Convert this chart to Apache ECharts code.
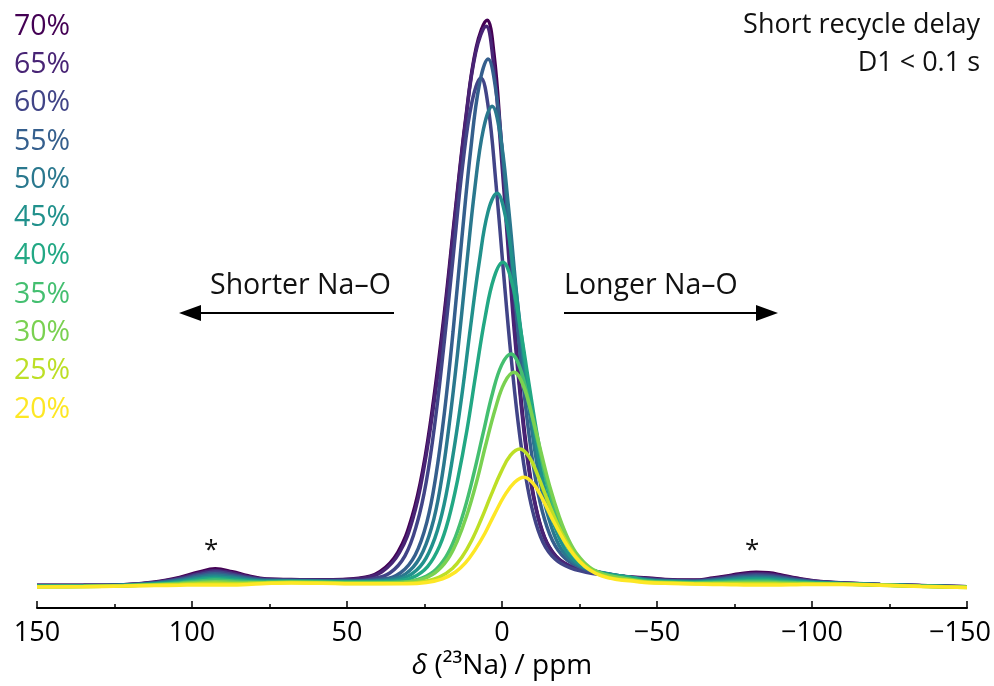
<!DOCTYPE html>
<html><head><meta charset="utf-8">
<script src="https://cdn.jsdelivr.net/npm/echarts@6/dist/echarts.min.js"></script>
<style>html,body{margin:0;padding:0;background:#fff}#c{width:994px;height:686px}</style>
</head><body><div id="c"></div>
<script>
// Labels (legend order top to bottom) and colours
const pctLabels = ['70%','65%','60%','55%','50%','45%','40%','35%','30%','25%','20%'];
const colors = ['#440154','#482475','#414487','#355f8d','#2a788e','#21918c','#22a884','#44bf70','#7ad151','#bddf26','#fde725'];
const xTicks = [150,100,50,0,-50,-100,-150];

// Spectra: [delta ppm, intensity]
const d70 = [[150,0.15],[135,0.15],[122,0.25],[112,0.7],[104,1.5],[98,2.4],[92.5,3.0],[87,2.5],[82,1.8],[76,1.25],[68,1.15],[58,1.1],
[46.2,1.38],[39.3,2.55],[33.6,5.87],[29.0,12.1],[25.5,20.3],[22.1,32.2],[18.6,47.4],[15.2,64.5],[11.7,81.2],[8.3,93.5],[4.8,98.2],
[2.6,92.4],[0.4,78.2],[-1.9,61.2],[-4.1,45.1],[-6.3,31.6],[-8.5,21.4],[-10.7,14.3],[-13.7,8.5],[-17.4,5.2],[-21.8,3.53],[-28.5,2.45],[-39.6,1.67],
[-47,1.4],[-55,1.1],[-62,1.05],[-68,1.4],[-74,1.9],[-78,2.25],[-82,2.4],[-86,2.3],[-90,1.95],[-95,1.4],[-101,0.9],[-110,0.55],[-122,0.3],[-135,0.1],[-150,-0.1]];
const d65 = [[150,0.12],[135,0.13],[122,0.23],[112,0.64],[104,1.37],[98,2.18],[92.5,2.72],[87,2.27],[82,1.65],[76,1.17],[68,1.09],[58,1.04],
[45.4,1.34],[38.7,2.5],[33.1,5.79],[28.6,12.0],[25.3,20.1],[21.9,31.9],[18.5,46.9],[15.2,63.9],[11.8,80.4],[8.5,92.6],[5.1,97.2],
[2.9,91.5],[0.6,77.4],[-1.7,60.6],[-3.9,44.6],[-6.2,31.3],[-8.4,21.2],[-10.7,14.1],[-13.7,8.4],[-17.4,5.11],[-21.9,3.47],[-28.7,2.41],[-39.9,1.63],
[-47,1.32],[-55,1.04],[-62,0.98],[-68,1.29],[-74,1.74],[-78,2.05],[-82,2.18],[-86,2.09],[-90,1.78],[-95,1.29],[-101,0.84],[-110,0.53],[-122,0.29],[-135,0.09],[-150,-0.12]];
const d60 = [[150,0.09],[135,0.1],[122,0.2],[112,0.58],[104,1.23],[98,1.96],[92.5,2.44],[87,2.04],[82,1.5],[76,1.09],[68,1.03],[58,0.98],[48,0.96],
[42.1,1.23],[36.2,2.28],[31.3,5.26],[27.4,10.9],[24.4,18.2],[21.5,28.9],[18.6,42.5],[15.6,58.0],[12.7,73.0],[9.7,84.0],[6.8,88.2],
[4.4,83.0],[2.0,70.2],[-0.4,55.0],[-2.8,40.5],[-5.2,28.4],[-7.6,19.2],[-10.0,12.8],[-13.2,7.63],[-17.2,4.65],[-22.0,3.16],[-29.2,2.2],[-41.2,1.49],
[-47,1.24],[-55,0.97],[-62,0.91],[-68,1.18],[-74,1.57],[-78,1.84],[-82,1.96],[-86,1.88],[-90,1.6],[-95,1.17],[-101,0.78],[-110,0.5],[-122,0.27],[-135,0.07],[-150,-0.13]];
const d55 = [[150,0.06],[135,0.08],[122,0.18],[112,0.52],[104,1.1],[98,1.74],[92.5,2.16],[87,1.81],[82,1.35],[76,1.01],[68,0.97],[58,0.92],[48,0.89],
[38.3,1.23],[32.7,2.32],[28.0,5.41],[24.2,11.2],[21.4,18.9],[18.6,30.0],[15.8,44.1],[13.0,60.1],[10.1,75.7],[7.3,87.1],[4.5,91.5],
[2.0,86.1],[-0.5,72.9],[-3.0,57.0],[-5.5,42.0],[-8.0,29.4],[-10.4,19.9],[-12.9,13.2],[-16.3,7.87],[-20.4,4.78],[-25.4,3.23],[-32.9,2.23],
[-47,1.16],[-55,0.91],[-62,0.84],[-68,1.07],[-74,1.41],[-78,1.64],[-82,1.74],[-86,1.67],[-90,1.43],[-95,1.06],[-101,0.72],[-110,0.48],[-122,0.26],[-135,0.06],[-150,-0.15]];
const d50 = [[150,0.03],[135,0.05],[122,0.15],[112,0.46],[104,0.96],[98,1.52],[92.5,1.88],[87,1.58],[82,1.2],[76,0.93],[68,0.91],[58,0.86],[48,0.82],
[36.7,1.12],[31.1,2.12],[26.5,4.93],[22.7,10.2],[19.9,17.2],[17.2,27.3],[14.4,40.1],[11.6,54.7],[8.8,68.9],[6.0,79.3],[3.2,83.3],
[0.6,78.4],[-2.0,66.3],[-4.5,51.9],[-7.1,38.2],[-9.7,26.8],[-12.3,18.1],[-14.9,12.1],[-18.3,7.17],[-22.6,4.35],[-27.8,2.95],[-35.5,2.03],
[-47,1.08],[-55,0.84],[-62,0.77],[-68,0.96],[-74,1.24],[-78,1.43],[-82,1.52],[-86,1.46],[-90,1.25],[-95,0.94],[-101,0.66],[-110,0.45],[-122,0.24],[-135,0.04],[-150,-0.16]];
const d45 = [[150,0.0],[135,0.03],[122,0.13],[112,0.4],[104,0.83],[98,1.3],[92.5,1.6],[87,1.35],[82,1.05],[76,0.85],[68,0.85],[58,0.8],[48,0.75],
[35.8,0.97],[30.1,1.79],[25.4,4.09],[21.6,8.43],[18.7,14.1],[15.9,22.4],[13.0,32.9],[10.2,44.8],[7.3,56.4],[4.5,65.0],[1.6,68.2],
[-1.1,64.2],[-3.8,54.3],[-6.5,42.5],[-9.2,31.3],[-11.9,22.0],[-14.6,14.9],[-17.3,9.92],[-20.9,5.92],[-25.4,3.62],[-30.8,2.46],[-38.9,1.72],
[-47,1.0],[-55,0.78],[-62,0.7],[-68,0.85],[-74,1.08],[-78,1.23],[-82,1.3],[-86,1.25],[-90,1.08],[-95,0.83],[-101,0.6],[-110,0.43],[-122,0.23],[-135,0.03],[-150,-0.18]];
const d40 = [[150,-0.03],[135,0.0],[122,0.1],[112,0.34],[104,0.69],[98,1.08],[92.5,1.32],[87,1.12],[82,0.9],[76,0.77],[68,0.79],[58,0.74],[48,0.68],
[34.6,0.84],[28.8,1.51],[24.0,3.4],[20.1,6.98],[17.2,11.7],[14.3,18.5],[11.3,27.1],[8.4,37.0],[5.5,46.5],[2.6,53.5],[-0.3,56.2],
[-3.1,52.9],[-5.9,44.8],[-8.7,35.1],[-11.5,25.8],[-14.3,18.1],[-17.0,12.3],[-19.8,8.2],[-23.6,4.91],[-28.2,3.01],[-33.8,2.06],[-42.2,1.45],
[-47,0.92],[-55,0.71],[-62,0.63],[-68,0.74],[-74,0.91],[-78,1.02],[-82,1.08],[-86,1.04],[-90,0.9],[-95,0.71],[-101,0.54],[-110,0.4],[-122,0.21],[-135,0.01],[-150,-0.19]];
const d35 = [[150,-0.06],[135,-0.03],[122,0.08],[112,0.28],[104,0.56],[98,0.86],[92.5,1.04],[87,0.89],[82,0.75],[76,0.69],[68,0.73],[58,0.68],[48,0.61],
[33.1,0.68],[27.1,1.16],[22.1,2.52],[18.1,5.07],[15.1,8.43],[12.1,13.3],[9.1,19.5],[6.1,26.5],[3.1,33.4],[0.1,38.4],[-2.9,40.3],
[-5.8,37.9],[-8.6,32.1],[-11.5,25.2],[-14.3,18.6],[-17.2,13.1],[-20.0,8.87],[-22.9,5.95],[-26.7,3.6],[-31.4,2.24],[-37.1,1.56],
[-47,0.84],[-55,0.65],[-62,0.56],[-68,0.63],[-74,0.75],[-78,0.82],[-82,0.86],[-86,0.83],[-90,0.73],[-95,0.6],[-101,0.48],[-110,0.38],[-122,0.2],[-135,-0.01],[-150,-0.21]];
const d30 = [[150,-0.09],[135,-0.05],[122,0.05],[112,0.22],[104,0.42],[98,0.64],[92.5,0.76],[87,0.66],[82,0.6],[76,0.61],[68,0.67],[58,0.62],[48,0.54],
[32.8,0.61],[26.7,1.06],[21.6,2.31],[17.5,4.66],[14.5,7.75],[11.4,12.2],[8.3,17.9],[5.3,24.4],[2.2,30.7],[-0.8,35.3],[-3.9,37.1],
[-6.8,34.9],[-9.7,29.6],[-12.6,23.2],[-15.5,17.1],[-18.5,12.0],[-21.4,8.15],[-24.3,5.47],[-28.2,3.3],[-33.0,2.05],[-38.8,1.42],
[-47,0.76],[-55,0.58],[-62,0.49],[-68,0.52],[-74,0.58],[-78,0.61],[-82,0.64],[-86,0.62],[-90,0.55],[-95,0.48],[-101,0.42],[-110,0.35],[-122,0.18],[-135,-0.02],[-150,-0.22]];
const d25 = [[150,-0.12],[135,-0.08],[122,0.03],[112,0.16],[104,0.29],[98,0.42],[92.5,0.48],[87,0.43],[82,0.45],[76,0.53],[68,0.61],[58,0.56],[48,0.47],
[31.6,0.48],[25.4,0.76],[20.2,1.56],[16.0,3.06],[12.9,5.04],[9.8,7.91],[6.7,11.6],[3.6,15.7],[0.4,19.7],[-2.7,22.7],[-5.8,23.8],
[-8.8,22.4],[-11.7,19.0],[-14.7,14.9],[-17.7,11.0],[-20.7,7.77],[-23.6,5.3],[-26.6,3.58],[-30.6,2.19],[-35.5,1.39],[-41.4,1.0],
[-47,0.68],[-55,0.52],[-62,0.42],[-68,0.41],[-74,0.42],[-78,0.41],[-82,0.42],[-86,0.41],[-90,0.38],[-95,0.37],[-101,0.36],[-110,0.33],[-122,0.17],[-135,-0.04],[-150,-0.24]];
const d20 = [[150,-0.15],[135,-0.1],[122,0.0],[112,0.1],[104,0.15],[98,0.2],[92.5,0.2],[87,0.2],[82,0.3],[76,0.45],[68,0.55],[58,0.5],[48,0.4],
[30.7,0.4],[24.4,0.62],[19.2,1.26],[15.0,2.45],[11.8,4.02],[8.7,6.29],[5.5,9.18],[2.4,12.5],[-0.8,15.7],[-4.0,18.0],[-7.1,18.9],
[-10.1,17.8],[-13.1,15.1],[-16.1,11.8],[-19.1,8.75],[-22.1,6.18],[-25.1,4.22],[-28.1,2.86],[-32.1,1.76],[-37.1,1.13],[-43.1,0.81],
[-47,0.6],[-55,0.45],[-62,0.35],[-68,0.3],[-74,0.25],[-78,0.2],[-82,0.2],[-86,0.2],[-90,0.2],[-95,0.25],[-101,0.3],[-110,0.3],[-122,0.15],[-135,-0.05],[-150,-0.25]];

const spectra = [d70,d65,d60,d55,d50,d45,d40,d35,d30,d25,d20];
const FONT = 'Open Sans';

const chart = echarts.init(document.getElementById('c'), null, {renderer:'canvas'});
const fmt = v => {
  if (!xTicks.includes(v)) return '';
  if (v === -150) return '{r|\u2212150}';
  return v < 0 ? '\u2212' + (-v) : String(v);
};

const graphics = [];
pctLabels.forEach((t,i) => {
  graphics.push({type:'text', left:14, top:12 + i*38.3, style:{text:t, fill:colors[i], font:'28.5px "'+FONT+'"'}});
});
graphics.push({type:'text', right:14, top:12, style:{text:'Short recycle delay', fill:'#111', font:'27px "'+FONT+'"', align:'right'}});
graphics.push({type:'text', right:14, top:50, style:{text:'D1 < 0.1 s', fill:'#111', font:'27px "'+FONT+'"', align:'right'}});
graphics.push({type:'text', left:210, top:271, style:{text:'Shorter Na\u2013O', fill:'#111', font:'28.5px "'+FONT+'"'}});
graphics.push({type:'text', left:564, top:271, style:{text:'Longer Na\u2013O', fill:'#111', font:'28.5px "'+FONT+'"'}});
// arrows
graphics.push({type:'line', shape:{x1:394,y1:313,x2:196,y2:313}, style:{stroke:'#000', lineWidth:2}});
graphics.push({type:'polygon', shape:{points:[[179,313],[201,305],[201,321]]}, style:{fill:'#000'}});
graphics.push({type:'line', shape:{x1:564,y1:313,x2:760,y2:313}, style:{stroke:'#000', lineWidth:2}});
graphics.push({type:'polygon', shape:{points:[[778,313],[756,305],[756,321]]}, style:{fill:'#000'}});
// spinning sideband markers
graphics.push({type:'text', left:204, top:538, style:{text:'*', fill:'#111', font:'26px "'+FONT+'"'}});
graphics.push({type:'text', left:745, top:538, style:{text:'*', fill:'#111', font:'26px "'+FONT+'"'}});

chart.setOption({
  animation:false,
  backgroundColor:'#fff',
  grid:{left:37, right:27, top:10, bottom:78, outerBoundsMode:'none', containLabel:false},
  xAxis:{
    type:'value', min:-150, max:150, interval:50, inverse:true,
    axisLine:{show:true, onZero:false, lineStyle:{color:'#000', width:2}},
    axisTick:{show:true, inside:true, length:7, lineStyle:{color:'#000', width:1.5}},
    minorTick:{show:true, splitNumber:2, length:4, lineStyle:{color:'#000', width:1.5}},
    splitLine:{show:false},
    axisLabel:{color:'#000', fontFamily:FONT, fontSize:27, margin:12, formatter: fmt,
      rich:{r:{fontFamily:FONT, fontSize:27, color:'#000', padding:[0,14,0,0]}}},
    name:'{d|δ} (²³Na) / ppm', nameLocation:'middle', nameGap:39,
    nameTextStyle:{color:'#000', fontFamily:FONT, fontSize:28, rich:{d:{fontStyle:'italic', fontFamily:FONT, fontSize:28, color:'#000'}}}
  },
  yAxis:{type:'value', min:-3.8, max:100, show:false},
  graphic: graphics,
  series: spectra.map((d,i) => ({
    type:'line', name:pctLabels[i], data:d, showSymbol:false, smooth:0.4,
    lineStyle:{color:colors[i], width:3.5}, itemStyle:{color:colors[i]}, z:2+i
  }))
});
</script></body></html>
